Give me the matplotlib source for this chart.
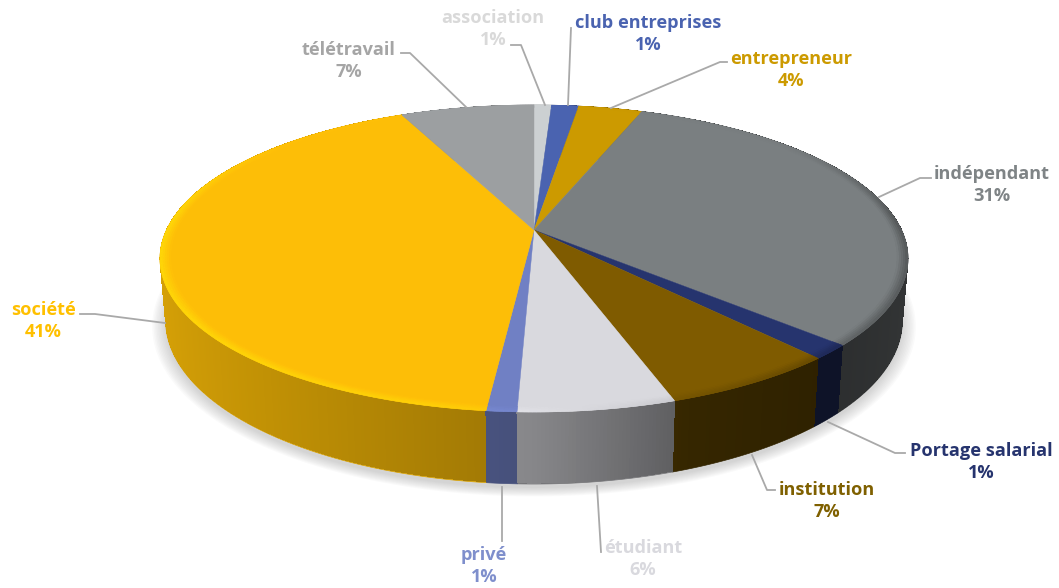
import numpy as np
import matplotlib
matplotlib.use('Agg')
import matplotlib.pyplot as plt
from matplotlib.collections import PolyCollection
from matplotlib.colors import to_rgb

# clockwise from 12 o'clock
names = ['association', 'club entreprises', 'entrepreneur', 'indépendant', 'Portage salarial',
         'institution', 'étudiant', 'privé', 'société', 'télétravail']
values = [0.9, 1.4, 3.3, 31.3, 1.5, 6.5, 5.7, 1.1, 41.4, 6.9]
pct_labels = ['1%', '1%', '4%', '31%', '1%', '7%', '6%', '1%', '41%', '7%']
slice_colors = ['#ccd0d2', '#4a63b0', '#cc9a00', '#7a7f81', '#26346e',
                '#7f5b00', '#d9d9de', '#7080c4', '#fdbe07', '#9c9fa1']
text_colors = ['#d9d9d9', '#4a63b0', '#cc9a00', '#7f8486', '#26346e',
               '#7f6000', '#d9d9de', '#7f8fcc', '#ffc000', '#a5a5a5']

# label centres and leader lines, in picture pixels
label_pos = [(493, 29), (648, 34), (791, 70), (992, 185), (981, 462),
             (827, 501), (643, 559), (484, 566), (43, 321), (349, 61)]
leaders = [[(545, 105), (521, 45), (511, 45)],
           [(568, 105), (571, 28)],
           [(611, 108), (720, 62), (727, 62)],
           [(879, 197), (920, 178), (931, 178)],
           [(828, 422), (895, 453), (905, 453)],
           [(752, 455), (767, 490), (775, 490)],
           [(597, 486), (601, 552)],
           [(502, 487), (502, 541)],
           [(165, 323), (95, 314), (80, 314)],
           [(466, 107), (410, 53), (401, 53)]]

cx = 534
persp = 0.1857
top_plane = (230, 148.2, 367.5)   # y centre, y scale, x scale
bottom_plane = (290, 158, 362)


def project(r, theta, plane):
    y0, a, b = plane
    u = r * np.sin(theta)
    v = r * np.cos(theta)
    w = 1 + persp * v
    return cx + b * u / w, y0 - a * v / w


def wall_shade(u):
    return np.interp(u, [-1, 0, 0.35, 0.7, 1], [0.85, 0.62, 0.42, 0.36, 0.42])


def rim_shade(u):
    return np.interp(u, [-1, -0.2, 0.4, 1], [1.14, 1.1, 0.9, 0.68])


def rim_strength(v):
    return np.interp(v, [-1, 0.1, 0.65], [1, 1, 0.1])


fig = plt.figure(figsize=(10.59, 5.88), dpi=100)
ax = fig.add_axes([0, 0, 1, 1])
ax.set_xlim(0, 1059)
ax.set_ylim(588, 0)
ax.axis('off')

edges = np.cumsum([0] + values) / sum(values) * 2 * np.pi

# soft shadow under the pie
ring = np.linspace(0, 2 * np.pi, 361)
for grow in np.linspace(1.035, 1.0, 10):
    sx, sy = project(grow, ring, bottom_plane)
    ax.fill(sx, sy + 4, color='#8a8a8a', alpha=0.04, lw=0, zorder=1)

# side wall: a plain underlay per slice, gradient strips on top
quads, quad_colors = [], []
for i, col in enumerate(slice_colors):
    base = np.array(to_rgb(col))
    th = np.linspace(edges[i], edges[i + 1], max(int((edges[i + 1] - edges[i]) / np.radians(0.5)), 2) + 1)
    tx, ty = project(1, th, top_plane)
    bx, by = project(1, th, bottom_plane)
    mid = (edges[i] + edges[i + 1]) / 2
    ax.fill(np.r_[tx, bx[::-1]], np.r_[ty, by[::-1]], color=base * wall_shade(np.sin(mid)), lw=0.5,
            zorder=2 - 0.1 * np.cos(mid))
    for k in range(len(th) - 1):
        quads.append(([(tx[k], ty[k]), (tx[k + 1], ty[k + 1]), (bx[k + 1], by[k + 1] - 1), (bx[k], by[k] - 1)],
                      np.cos((th[k] + th[k + 1]) / 2)))
        quad_colors.append(base * wall_shade(np.sin((th[k] + th[k + 1]) / 2)))
order = np.argsort([-q[1] for q in quads])
ax.add_collection(PolyCollection([quads[j][0] for j in order],
                                 facecolors=[quad_colors[j] for j in order],
                                 edgecolors='none', linewidths=0, antialiaseds=False, zorder=2.5))

# top face
for i, col in enumerate(slice_colors):
    th = np.linspace(edges[i], edges[i + 1], 200)
    x, y = project(1, th, top_plane)
    ax.fill(np.r_[cx, x], np.r_[top_plane[0], y], color=col, lw=0.3, zorder=3)

# bevel along the outer edge of the top face
radii = np.linspace(0.972, 1.0, 6)
rim_quads, rim_colors = [], []
for i, col in enumerate(slice_colors):
    base = np.array(to_rgb(col))
    th = np.linspace(edges[i], edges[i + 1], max(int((edges[i + 1] - edges[i]) / np.radians(0.5)), 2) + 1)
    for r0, r1 in zip(radii[:-1], radii[1:]):
        blend = ((r0 + r1) / 2 - radii[0]) / (1 - radii[0])
        for t0, t1 in zip(th[:-1], th[1:]):
            x0, y0 = project(r0, t0, top_plane)
            x1, y1 = project(r0, t1, top_plane)
            x2, y2 = project(r1, t1, top_plane)
            x3, y3 = project(r1, t0, top_plane)
            rim_quads.append([(x0, y0), (x1, y1), (x2, y2), (x3, y3)])
            mid = (t0 + t1) / 2
            f = 1 + (rim_shade(np.sin(mid)) - 1) * blend * rim_strength(np.cos(mid))
            rim_colors.append(np.clip(base * f, 0, 1))
ax.add_collection(PolyCollection(rim_quads, facecolors=rim_colors, edgecolors=rim_colors,
                                 linewidths=0.4, zorder=4))

# leader lines and labels
for line in leaders:
    ax.plot([p[0] for p in line], [p[1] for p in line], color='#a9a9a9', lw=1.3, zorder=5,
            solid_joinstyle='round')
for name, pct, pos, col in zip(names, pct_labels, label_pos, text_colors):
    ax.text(pos[0], pos[1], name + '\n' + pct, color=col, ha='center', va='center',
            fontsize=13.1, fontweight='bold', family='Open Sans', linespacing=1.24, zorder=6)

plt.savefig('out.png', dpi=100)
